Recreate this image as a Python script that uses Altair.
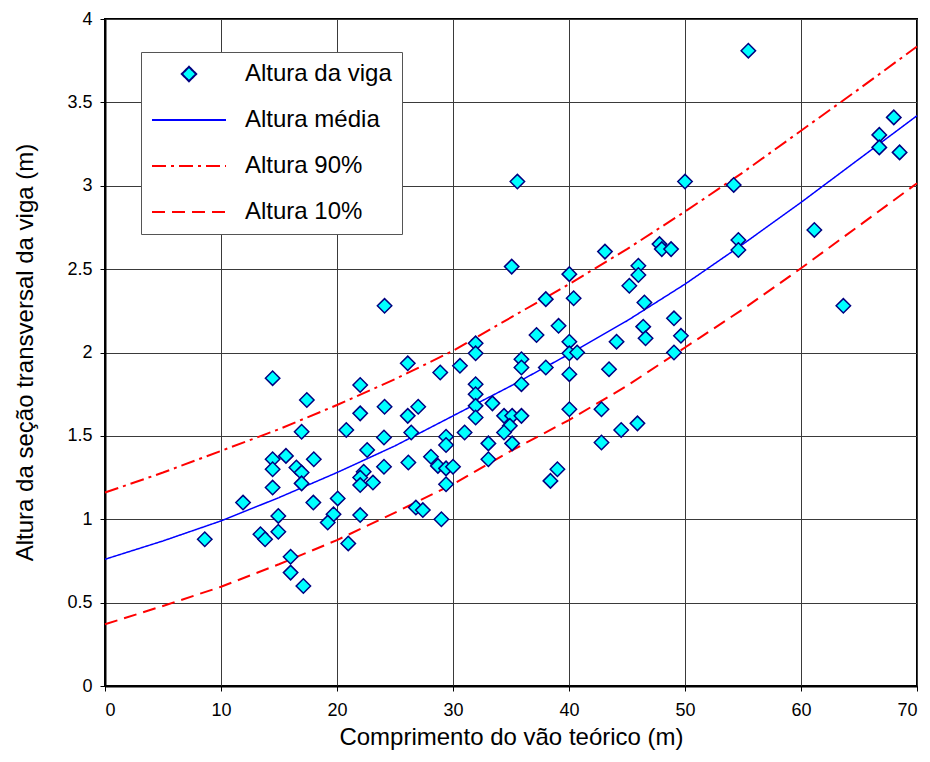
import altair as alt
import pandas as pd

# ---- scatter data (span m, beam height m) ----
pts_x = [14.45, 17.4, 22.0, 22.0, 24.1, 16.95, 20.8, 24.05, 22.6, 14.45, 15.6, 18.0, 14.45, 16.5,
         16.95, 16.95, 14.45, 24.05, 22.3, 22.0, 22.0, 23.1, 11.9, 17.96, 20.06, 14.94, 19.7, 19.2,
         22.0, 8.6, 13.4, 13.8, 14.94, 20.97, 16.0, 16.0, 17.1,
         24.1, 38.0, 39.1, 37.2, 31.95, 31.95, 26.1, 30.6, 28.9, 35.9, 35.9, 38.0, 35.9, 31.95,
         31.95, 31.95, 31.95, 33.4, 27.0, 26.1, 34.4, 35.1, 35.9, 34.9, 34.4, 26.4, 31.0, 29.4,
         29.4, 33.05, 35.1, 33.05, 26.15, 28.1, 28.7, 29.4, 30.0, 29.4, 38.4, 39.0, 26.8, 27.4, 29.0,
         35.55, 35.06, 40.03, 43.1, 45.98, 45.98, 45.2, 40.4, 46.5, 46.4, 46.6, 44.1, 40.03, 40.03,
         40.7, 43.45, 40.03, 40.03, 42.8, 44.5, 45.9, 42.8,
         50.0, 54.2, 47.8, 48.0, 48.8, 54.6, 54.6, 49.05, 49.65, 49.05,
         55.46, 68.0, 66.75, 66.75, 68.5, 61.15, 63.65]
pts_y = [1.846, 1.715, 1.805, 1.635, 1.675, 1.525, 1.535, 1.49, 1.415, 1.36, 1.38, 1.36, 1.30, 1.31,
         1.28, 1.215, 1.19, 1.315, 1.285, 1.25, 1.205, 1.22, 1.10, 1.10, 1.125, 1.02, 1.03, 0.98,
         1.025, 0.88, 0.91, 0.88, 0.925, 0.855, 0.775, 0.68, 0.60,
         2.28, 2.32, 2.16, 2.105, 2.055, 1.995, 1.935, 1.92, 1.88, 1.96, 1.91, 1.91, 1.81, 1.81,
         1.75, 1.68, 1.61, 1.695, 1.675, 1.62, 1.62, 1.62, 1.62, 1.56, 1.52, 1.52, 1.52, 1.495,
         1.445, 1.455, 1.455, 1.36, 1.34, 1.375, 1.32, 1.305, 1.315, 1.21, 1.23, 1.30, 1.07, 1.055, 1.00,
         3.025, 2.515, 2.47, 2.605, 2.52, 2.465, 2.40, 2.325, 2.30, 2.155, 2.085, 2.065, 2.065, 1.995,
         2.0, 1.90, 1.87, 1.66, 1.66, 1.535, 1.575, 1.46,
         3.025, 3.005, 2.65, 2.62, 2.62, 2.675, 2.615, 2.205, 2.10, 2.0,
         3.81, 3.41, 3.305, 3.23, 3.20, 2.735, 2.28]

# ---- curves ----
curve_x = [0, 5, 10, 15, 20, 25, 30, 35, 40, 45, 50, 55, 60, 65, 70]
mean_y = [0.76, 0.87, 0.99, 1.13, 1.28, 1.44, 1.62, 1.80, 1.99, 2.19, 2.41, 2.65, 2.90, 3.16, 3.42]
p90_y = [1.16, 1.28, 1.41, 1.54, 1.685, 1.84, 2.01, 2.21, 2.41, 2.62, 2.845, 3.08, 3.33, 3.58, 3.835]
p10_y = [0.37, 0.48, 0.595, 0.73, 0.875, 1.04, 1.21, 1.41, 1.595, 1.80, 2.03, 2.26, 2.505, 2.76, 3.015]

SERIES = ["Altura da viga", "Altura média", "Altura 90%", "Altura 10%"]

df_pts = pd.DataFrame({"x": pts_x, "y": pts_y, "s": SERIES[0]})
df_mean = pd.DataFrame({"x": curve_x, "y": mean_y, "s": SERIES[1]})
df_q = pd.concat([
    pd.DataFrame({"x": curve_x, "y": p90_y, "s": SERIES[2]}),
    pd.DataFrame({"x": curve_x, "y": p10_y, "s": SERIES[3]}),
])

DIAMOND = "M-0.195,0L0,-0.195L0.195,0L0,0.195Z"
BIG = 5476

stroke_sc = alt.Scale(domain=SERIES, range=["#000080", "#0000FF", "#FF0000", "#FF0000"])
fill_sc = alt.Scale(domain=SERIES, range=["#00FFFF", "transparent", "transparent", "transparent"])
shape_sc = alt.Scale(domain=SERIES, range=[DIAMOND, "stroke", "stroke", "stroke"])
dash_sc = alt.Scale(domain=SERIES, range=[[1, 0], [1, 0], [14, 5, 3, 5], [13, 7]])

FONT = "Liberation Sans"

x_enc = alt.X("x:Q", scale=alt.Scale(domain=[0, 70], nice=False, zero=False),
              axis=alt.Axis(values=list(range(0, 71, 10)), title="Comprimento do vão teórico (m)",
                            titleX=406, titleY=51, titleBaseline="middle", titleAlign="center",
                            labelPadding=10))
y_enc = alt.Y("y:Q", scale=alt.Scale(domain=[0, 4], nice=False, zero=False),
              axis=alt.Axis(values=[0, 0.5, 1, 1.5, 2, 2.5, 3, 3.5, 4], format="~g",
                            title="Altura da seção transversal da viga (m)",
                            titleX=-80, titleY=333, titleBaseline="middle", titleAlign="center",
                            labelPadding=8))

lines_mean = alt.Chart(df_mean).mark_line(strokeWidth=1.5, opacity=1).encode(
    x=x_enc, y=y_enc,
    stroke=alt.Stroke("s:N", scale=stroke_sc, title=None),
    strokeDash=alt.StrokeDash("s:N", scale=dash_sc, title=None),
)
lines_q = alt.Chart(df_q).mark_line(strokeWidth=2, opacity=1).encode(
    x=x_enc, y=y_enc,
    stroke=alt.Stroke("s:N", scale=stroke_sc, title=None),
    strokeDash=alt.StrokeDash("s:N", scale=dash_sc, title=None),
)
points = alt.Chart(df_pts).mark_point(size=BIG, filled=True, opacity=1, strokeWidth=1.5).encode(
    x=x_enc, y=y_enc,
    stroke=alt.Stroke("s:N", scale=stroke_sc, title=None),
    fill=alt.Fill("s:N", scale=fill_sc, title=None),
    shape=alt.Shape("s:N", scale=shape_sc, title=None),
)

chart = alt.layer(lines_mean, lines_q, points).properties(
    width=812, height=667,
    autosize=alt.AutoSizeParams(type="none"),
    padding={"left": 97, "top": 11, "right": 5, "bottom": 68},
).configure_view(
    stroke="black", strokeWidth=2
).configure_axis(
    domainColor="black", domainWidth=2,
    tickColor="black", tickSize=5, tickWidth=1,
    grid=True, gridColor="#3a3a3a", gridWidth=1, gridOpacity=1,
    labelFont=FONT, labelFontSize=18, labelColor="black",
    titleFont=FONT, titleFontSize=24, titleFontWeight="normal", titleColor="black",
).configure_legend(
    orient="none", legendX=36, legendY=33,
    padding=10, strokeColor="#555555", fillColor="white", cornerRadius=0,
    labelFont=FONT, labelFontSize=24, labelColor="black", labelOffset=18, labelLimit=500,
    rowPadding=22, clipHeight=24, symbolSize=BIG, symbolStrokeWidth=2, symbolOpacity=1,
)

chart.save("out.html", embed_options={"renderer": "svg", "actions": False})
